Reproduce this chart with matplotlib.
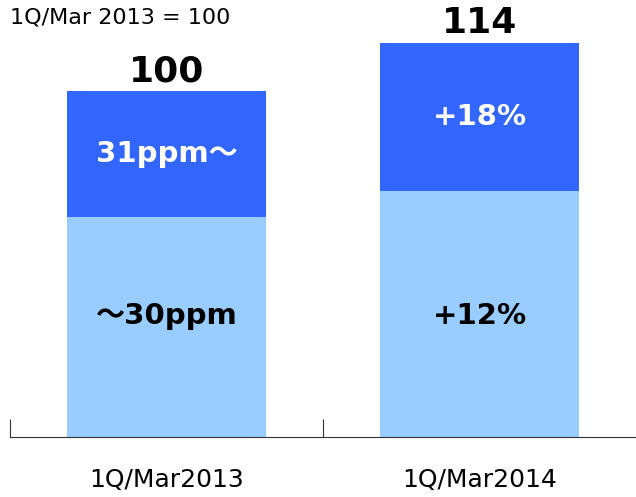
import matplotlib
matplotlib.use("Agg")
import matplotlib.pyplot as plt

# data (index, 1Q/Mar 2013 = 100)
categories = ["1Q/Mar2013", "1Q/Mar2014"]
low_ppm = [63.6, 71.2]      # ~30ppm segment
high_ppm = [36.4, 42.8]     # 31ppm~ segment
totals = ["100", "114"]
low_labels = ["～30ppm", "+12%"]
high_labels = ["31ppm～", "+18%"]

plt.rcParams['font.family'] = ['DejaVu Sans', 'Noto Sans CJK JP']

fig = plt.figure(figsize=(6.36, 4.97), dpi=100)
ax = fig.add_axes([10/636, 60/497, 626/636, 415/497])

x = range(len(categories))
w = 0.634
ax.bar(x, low_ppm, w, color="#99ccff")
ax.bar(x, high_ppm, w, bottom=low_ppm, color="#3366ff")

for i in x:
    top = low_ppm[i] + high_ppm[i]
    ax.text(i, top + 0.8, totals[i], ha="center", va="bottom",
            fontsize=26, fontweight="bold")
    ax.text(i, 35, low_labels[i], ha="center", va="center",
            fontsize=21, fontweight="bold", color="black")
    ax.text(i, low_ppm[i] + high_ppm[i] / 2, high_labels[i], ha="center",
            va="center", fontsize=21, fontweight="bold", color="white")

ax.set_xlim(-0.5, 1.5)
ax.set_ylim(0, 120)
for s in ["top", "right", "left"]:
    ax.spines[s].set_visible(False)
ax.spines["bottom"].set_color("#333333")
ax.set_yticks([])
ax.set_xticks([-0.5, 0.5])
ax.set_xticklabels([])
ax.tick_params(axis="x", which="major", direction="in", length=13, color="#333333")
ax.set_xticks([0, 1], minor=True)
ax.set_xticklabels(categories, minor=True, fontsize=18)
ax.tick_params(axis="x", which="minor", length=0, pad=22)

fig.text(10/636, 1 - 18/497, "1Q/Mar 2013 = 100", fontsize=16, va="center")

plt.savefig("out.png", dpi=100)
